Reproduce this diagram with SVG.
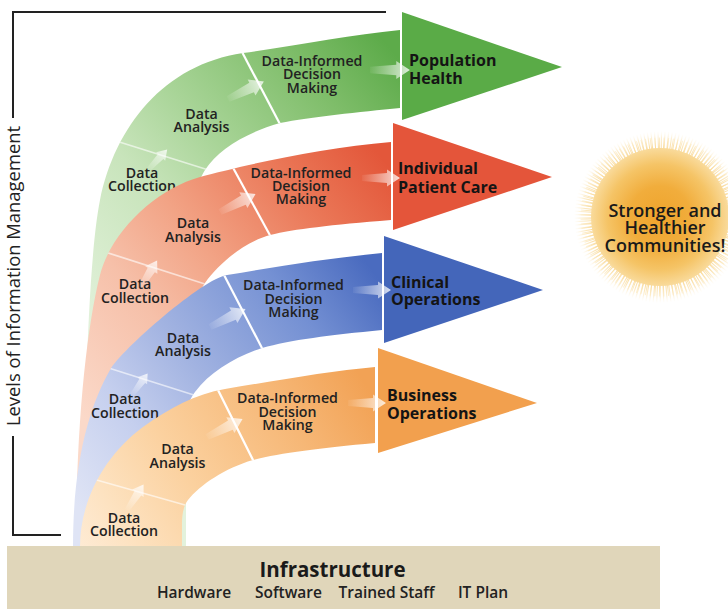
<svg xmlns="http://www.w3.org/2000/svg" width="728" height="609" viewBox="0 0 728 609">
  <defs>
    <style>
      text { font-family: 'Open Sans', 'Liberation Sans', sans-serif; }
      .stage { font-size: 14.2px; font-weight: 600; fill: #222; text-anchor: middle; }
      .outcome { font-size: 16px; font-weight: 700; fill: #141414; }
      .axis-label { font-size: 18.4px; font-weight: 400; fill: #222; text-anchor: middle; }
      .infra-title { font-size: 20.5px; font-weight: 700; fill: #1a1a1a; text-anchor: middle; }
      .infra-item { font-size: 15.5px; font-weight: 600; fill: #222; text-anchor: middle; }
      .goal { font-size: 18px; font-weight: 600; fill: #1a1a1a; text-anchor: middle; }
      .div-main { stroke: #fff; stroke-width: 2.2; fill: none; }
      .div-soft { stroke: #fff; stroke-width: 1.8; stroke-opacity: 0.6; fill: none; }
      .bracket { stroke: #222; stroke-width: 2; fill: none; }
      .flow { fill: url(#arrowFade); }
    </style>

    <!-- band colour ramps: pale at the base, saturated toward the outcome -->
    <linearGradient id="gradGreen" gradientUnits="userSpaceOnUse" x1="85" y1="330" x2="400" y2="60">
      <stop offset="0" stop-color="#e3f2dc"/>
      <stop offset="0.34" stop-color="#c8e4bb"/>
      <stop offset="0.54" stop-color="#a8d497"/>
      <stop offset="0.8" stop-color="#80be6b"/>
      <stop offset="1" stop-color="#5dab4a"/>
    </linearGradient>
    <linearGradient id="gradRed" gradientUnits="userSpaceOnUse" x1="85" y1="420" x2="392" y2="170">
      <stop offset="0" stop-color="#fbd9c9"/>
      <stop offset="0.3" stop-color="#f6c0a9"/>
      <stop offset="0.51" stop-color="#f2a385"/>
      <stop offset="0.79" stop-color="#ea7656"/>
      <stop offset="1" stop-color="#e3573a"/>
    </linearGradient>
    <linearGradient id="gradBlue" gradientUnits="userSpaceOnUse" x1="80" y1="510" x2="383" y2="285">
      <stop offset="0" stop-color="#dfe4f5"/>
      <stop offset="0.25" stop-color="#c5cfee"/>
      <stop offset="0.47" stop-color="#a2b3e1"/>
      <stop offset="0.78" stop-color="#7490d3"/>
      <stop offset="1" stop-color="#4a6bbf"/>
    </linearGradient>
    <linearGradient id="gradOrange" gradientUnits="userSpaceOnUse" x1="80" y1="580" x2="375" y2="400">
      <stop offset="0" stop-color="#feeedb"/>
      <stop offset="0.19" stop-color="#fde2c0"/>
      <stop offset="0.42" stop-color="#fbd19f"/>
      <stop offset="0.76" stop-color="#f6b776"/>
      <stop offset="1" stop-color="#f2a255"/>
    </linearGradient>

    <linearGradient id="arrowFade" x1="0" y1="0" x2="1" y2="0">
      <stop offset="0" stop-color="#fff" stop-opacity="0.05"/>
      <stop offset="0.6" stop-color="#fff" stop-opacity="0.5"/>
      <stop offset="1" stop-color="#fff" stop-opacity="0.8"/>
    </linearGradient>

    <radialGradient id="sunGrad" gradientUnits="userSpaceOnUse" cx="660" cy="217" r="88">
      <stop offset="0" stop-color="#efa42c"/>
      <stop offset="0.35" stop-color="#f1ad3c"/>
      <stop offset="0.6" stop-color="#f5c466"/>
      <stop offset="0.78" stop-color="#f9da9a"/>
      <stop offset="0.9" stop-color="#fcecc9" stop-opacity="0.8"/>
      <stop offset="1" stop-color="#ffffff" stop-opacity="0"/>
    </radialGradient>

    <!-- curved band outlines -->
    <path id="shapeGreen" d="M84,547 C84,420 88,260 100,200 C115,126.5 164,64.6 243,53 C300,45 350,35 400,30 L400,108 C360,112 310,117 280,123 C245,133 218,150 205,170 C192,190 186,240 186,300 L186,547 Z"/>
    <path id="shapeRed" d="M76,547 C76,430 86,330 100,275 C111,231.4 156.6,188.8 200,177 C240,166 320,148 391,142 L391,220 C330,225 295,229 270,235 C245,242 220,262 205,283 C190,305 180,350 180,420 L180,547 Z"/>
    <path id="shapeBlue" d="M73,547 C73,460 90,405 110,370 C121.9,349.2 203.2,278.4 227,275 C280,266 330,258 382,253 L382,330 C330,335 290,340 262,348 C235,357 210,372 195,392 C185,405 180,430 180,470 L180,547 Z"/>
    <path id="shapeOrange" d="M80,547 C80,500 105,455 143,427 C170,408 195,394 225,389 C280,380 330,371 375,367 L375,443 C320,448 280,453 253,460 C225,468 200,485 188,500 C183,507 182,515 182,525 L182,547 Z"/>

    <clipPath id="clipGreen"><use href="#shapeGreen"/></clipPath>
    <clipPath id="clipRed"><use href="#shapeRed"/></clipPath>
    <clipPath id="clipBlue"><use href="#shapeBlue"/></clipPath>
    <clipPath id="clipOrange"><use href="#shapeOrange"/></clipPath>

    <!-- translucent flow arrow, tail at origin pointing along +x -->
    <path id="flowArrow" d="M0,-3 L25,-5 L25,-8.5 L38,0 L25,8.5 L25,5 L0,3 Z"/>
  </defs>

  <rect width="728" height="609" fill="#ffffff"/>

  <!-- vertical axis bracket -->
  <g id="levels-axis">
    <path class="bracket" d="M386,12 H13 V118"/>
    <path class="bracket" d="M13,436 V535 H61"/>
    <text class="axis-label" transform="translate(20,276) rotate(-90)">Levels of Information Management</text>
  </g>

  <!-- Population Health band -->
  <g id="band-population-health">
    <use href="#shapeGreen" fill="url(#gradGreen)"/>
    <g clip-path="url(#clipGreen)">
      <line class="div-soft" x1="113" y1="140" x2="218" y2="173"/>
      <line class="div-main" x1="241" y1="50" x2="282" y2="128"/>
    </g>
    <g id="pop-collection">
      <text class="stage" x="142" y="177.5">Data<tspan x="142" dy="13.5">Collection</tspan></text>
    </g>
    <g id="pop-analysis">
      <text class="stage" x="201.5" y="119">Data<tspan x="201.5" dy="13">Analysis</tspan></text>
    </g>
    <g id="pop-decision">
      <text class="stage" x="312" y="66">Data-Informed<tspan x="312" dy="13.3">Decision</tspan><tspan x="312" dy="13.4">Making</tspan></text>
    </g>
    <g id="pop-outcome">
      <polygon points="402,12 562,67 402,120" fill="#5aab47"/>
      <text class="outcome" x="409" y="66">Population<tspan x="409" dy="18">Health</tspan></text>
    </g>
  </g>

  <!-- Individual Patient Care band -->
  <g id="band-patient-care">
    <use href="#shapeRed" fill="url(#gradRed)"/>
    <g clip-path="url(#clipRed)">
      <line class="div-soft" x1="102" y1="251" x2="208" y2="285"/>
      <line class="div-main" x1="231" y1="164" x2="272" y2="239"/>
    </g>
    <g id="care-collection">
      <text class="stage" x="135" y="288.5">Data<tspan x="135" dy="14">Collection</tspan></text>
    </g>
    <g id="care-analysis">
      <text class="stage" x="193" y="228">Data<tspan x="193" dy="14">Analysis</tspan></text>
    </g>
    <g id="care-decision">
      <text class="stage" x="301" y="178.3">Data-Informed<tspan x="301" dy="12.9">Decision</tspan><tspan x="301" dy="13">Making</tspan></text>
    </g>
    <g id="care-outcome">
      <polygon points="393,123 552,177 393,230" fill="#e4553a"/>
      <text class="outcome" x="398" y="174">Individual<tspan x="398" dy="19">Patient Care</tspan></text>
    </g>
  </g>

  <!-- Clinical Operations band -->
  <g id="band-clinical-operations">
    <use href="#shapeBlue" fill="url(#gradBlue)"/>
    <g clip-path="url(#clipBlue)">
      <line class="div-soft" x1="96" y1="364" x2="197" y2="396"/>
      <line class="div-main" x1="223" y1="273" x2="264" y2="352"/>
    </g>
    <g id="clin-collection">
      <text class="stage" x="125" y="404">Data<tspan x="125" dy="13.5">Collection</tspan></text>
    </g>
    <g id="clin-analysis">
      <text class="stage" x="183" y="342.7">Data<tspan x="183" dy="13.3">Analysis</tspan></text>
    </g>
    <g id="clin-decision">
      <text class="stage" x="293.5" y="290">Data-Informed<tspan x="293.5" dy="14">Decision</tspan><tspan x="293.5" dy="13">Making</tspan></text>
    </g>
    <g id="clin-outcome">
      <polygon points="384,236 543,290 384,343" fill="#4466ba"/>
      <text class="outcome" x="391" y="288">Clinical<tspan x="391" dy="17">Operations</tspan></text>
    </g>
  </g>

  <!-- Business Operations band -->
  <g id="band-business-operations">
    <use href="#shapeOrange" fill="url(#gradOrange)"/>
    <g clip-path="url(#clipOrange)">
      <line class="div-soft" x1="86" y1="477" x2="192" y2="507"/>
      <line class="div-main" x1="216" y1="386" x2="255" y2="464"/>
    </g>
    <g id="biz-collection">
      <text class="stage" x="124" y="522.7">Data<tspan x="124" dy="13.3">Collection</tspan></text>
    </g>
    <g id="biz-analysis">
      <text class="stage" x="177.5" y="454">Data<tspan x="177.5" dy="13.5">Analysis</tspan></text>
    </g>
    <g id="biz-decision">
      <text class="stage" x="287.5" y="402.7">Data-Informed<tspan x="287.5" dy="14">Decision</tspan><tspan x="287.5" dy="13.3">Making</tspan></text>
    </g>
    <g id="biz-outcome">
      <polygon points="378,348 537,403 378,453" fill="#f2a04e"/>
      <text class="outcome" x="387" y="401">Business<tspan x="387" dy="18">Operations</tspan></text>
    </g>
  </g>

  <!-- stage-to-stage flow arrows -->
  <g id="connectors" class="flow">
    <use href="#flowArrow" transform="translate(148,170) rotate(-47) scale(0.74)"/>
    <use href="#flowArrow" transform="translate(228,99) rotate(-26) scale(1.05)"/>
    <use href="#flowArrow" transform="translate(370,70) scale(1.05)"/>

    <use href="#flowArrow" transform="translate(140,288) rotate(-58) scale(0.85)"/>
    <use href="#flowArrow" transform="translate(220,212) rotate(-27) scale(1.05)"/>
    <use href="#flowArrow" transform="translate(362,178) scale(1.0)"/>

    <use href="#flowArrow" transform="translate(132,395) rotate(-54) scale(0.7)"/>
    <use href="#flowArrow" transform="translate(210,327) rotate(-27) scale(1.05)"/>
    <use href="#flowArrow" transform="translate(353,290) scale(1.0)"/>

    <use href="#flowArrow" transform="translate(127,510) rotate(-57) scale(0.8)"/>
    <use href="#flowArrow" transform="translate(207,437) rotate(-27) scale(1.05)"/>
    <use href="#flowArrow" transform="translate(348,403) scale(1.0)"/>
  </g>

  <!-- goal sunburst -->
  <g id="goal-communities">
    <circle cx="660" cy="217" r="69" fill="url(#sunGrad)"/>
    <circle cx="660" cy="217" r="76" fill="none" stroke="url(#sunGrad)" stroke-width="19" stroke-dasharray="1.1 2.1"/>
    <circle cx="660" cy="217" r="73" fill="none" stroke="url(#sunGrad)" stroke-width="13" stroke-dasharray="0.9 3.4" stroke-dashoffset="1.5"/>
    <text class="goal" x="665" y="217">Stronger and<tspan x="665" dy="17">Healthier</tspan><tspan x="665" dy="18">Communities!</tspan></text>
  </g>

  <!-- infrastructure base -->
  <g id="infrastructure">
    <rect x="7" y="546" width="653" height="63" fill="#e0d6ba"/>
    <text class="infra-title" x="332.5" y="577">Infrastructure</text>
    <text class="infra-item" x="194" y="598">Hardware</text>
    <text class="infra-item" x="288.5" y="598">Software</text>
    <text class="infra-item" x="386.5" y="598">Trained Staff</text>
    <text class="infra-item" x="483" y="598">IT Plan</text>
  </g>
</svg>
